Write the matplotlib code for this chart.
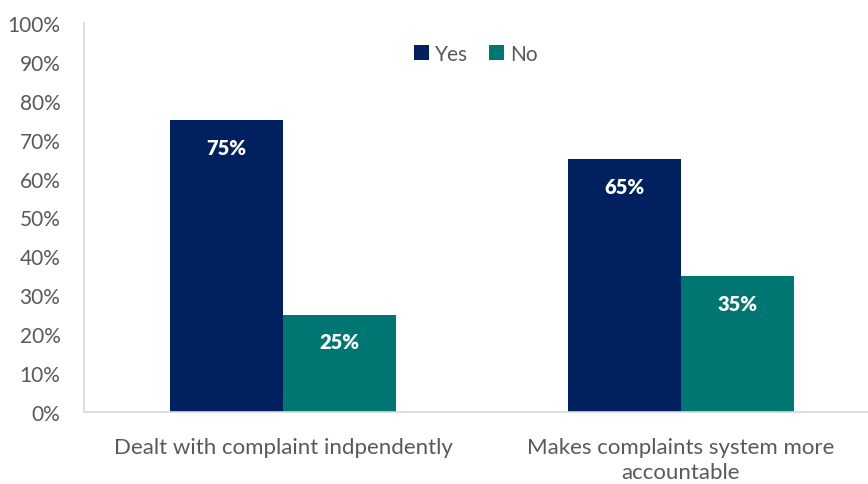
import matplotlib
matplotlib.use("Agg")
import matplotlib.pyplot as plt
import numpy as np

categories = ["Dealt with complaint indpendently", "Makes complaints system more\naccountable"]
yes_vals = [75, 65]
no_vals = [25, 35]
series_names = ["Yes", "No"]
yticks = [0, 10, 20, 30, 40, 50, 60, 70, 80, 90, 100]

plt.rcParams['font.family'] = ['Lato', 'DejaVu Sans']
W, H = 868, 485
fig = plt.figure(figsize=(W/100, H/100), dpi=100)
ax = fig.add_axes([84/W, (H-413)/H, (W-84)/W, (413-24)/H])

x = np.arange(len(categories))
bw = 113/398
c_yes = "#002060"
c_no = "#007672"
b1 = ax.bar(x - bw/2, yes_vals, bw, color=c_yes, label=series_names[0])
b2 = ax.bar(x + bw/2, no_vals, bw, color=c_no, label=series_names[1])

for bars, vals in ((b1, yes_vals), (b2, no_vals)):
    for b, v in zip(bars, vals):
        ax.text(b.get_x() + b.get_width()/2, v - 7, f"{v}%", ha="center", va="center",
                color="white", fontsize=14.5, fontweight="heavy")

ax.set_ylim(0, 100)
ax.set_xlim(-0.5, 1.47)
ax.set_yticks(yticks)
ax.set_yticklabels([f"{t}%" for t in yticks])
ax.set_xticks(x)
ax.set_xticklabels(categories, linespacing=1.3)
ax.tick_params(axis="both", length=0, colors="#595959")
ax.tick_params(axis="y", pad=17, labelsize=15)
ax.tick_params(axis="x", pad=18, labelsize=16)
for s in ("top", "right"):
    ax.spines[s].set_visible(False)
for s in ("left", "bottom"):
    ax.spines[s].set_color("#d9d9d9")
    ax.spines[s].set_linewidth(1.2)

leg = ax.legend(loc="center", bbox_to_anchor=(476/W, (H-55)/H), bbox_transform=fig.transFigure,
                ncol=2, frameon=False, fontsize=15, handlelength=0.7, handleheight=0.7,
                handletextpad=0.3, columnspacing=1.0)
for t in leg.get_texts():
    t.set_color("#595959")

fig.savefig("out.png", dpi=100)
